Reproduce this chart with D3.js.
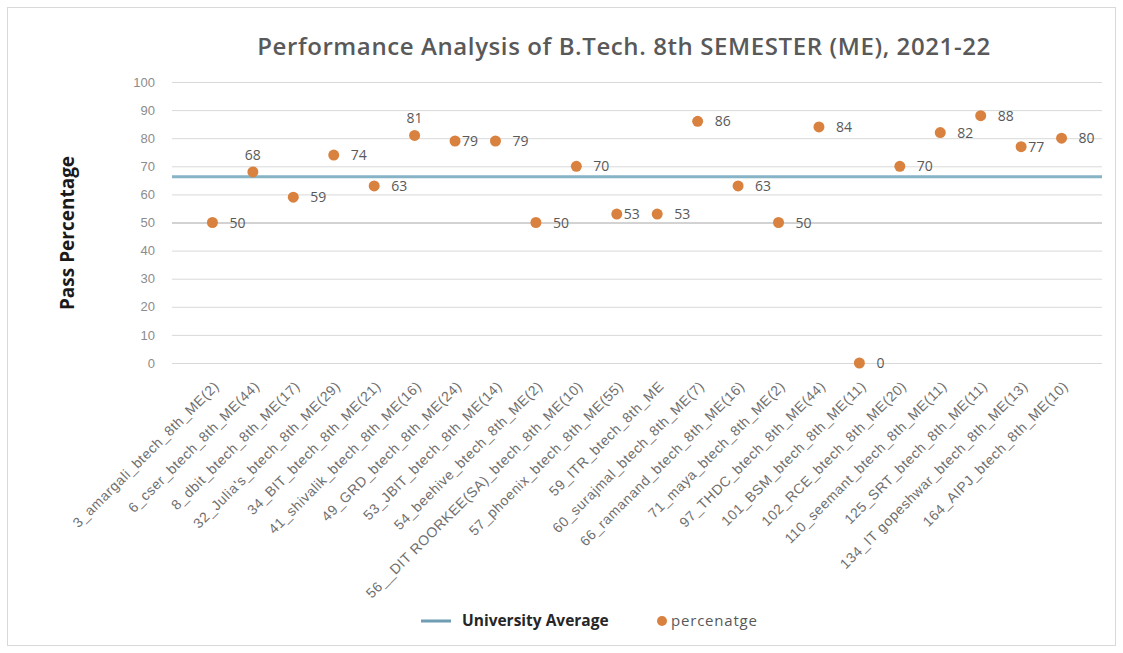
<!DOCTYPE html>
<html>
<head>
<meta charset="utf-8">
<script src="https://cdn.jsdelivr.net/npm/d3@7"></script>
<style>
  html, body { margin: 0; padding: 0; background: #fff; }
  svg { display: block; font-family: "Open Sans", "Liberation Sans", sans-serif; }
</style>
</head>
<body>
<svg id="chart" width="1123" height="653"></svg>
<script>
// Colleges (with number of students appearing) along the x axis
const colleges = [
  "3_amargali_btech_8th_ME(2)",
  "6_cser_btech_8th_ME(44)",
  "8_dbit_btech_8th_ME(17)",
  "32_Julia's_btech_8th_ME(29)",
  "34_BIT_btech_8th_ME(21)",
  "41_shivalik_btech_8th_ME(16)",
  "49_GRD_btech_8th_ME(24)",
  "53_JBIT_btech_8th_ME(14)",
  "54_beehive_btech_8th_ME(2)",
  "56__DIT ROORKEE(SA)_btech_8th_ME(10)",
  "57_phoenix_btech_8th_ME(55)",
  "59_ITR_btech_8th_ME",
  "60_surajmal_btech_8th_ME(7)",
  "66_ramanand_btech_8th_ME(16)",
  "71_maya_btech_8th_ME(2)",
  "97_THDC_btech_8th_ME(44)",
  "101_BSM_btech_8th_ME(11)",
  "102_RCE_btech_8th_ME(20)",
  "110_seemant_btech_8th_ME(11)",
  "125_SRT_btech_8th_ME(11)",
  "134_IT gopeshwar_btech_8th_ME(13)",
  "164_AIPJ_btech_8th_ME(10)"
];

// Pass percentage per college
const percentage = [50, 68, 59, 74, 63, 81, 79, 79, 50, 70, 53, 53, 86, 63, 50, 84, 0, 70, 82, 88, 77, 80];

// Where each value label sits relative to its dot
const labelSide = ["right", "above", "right", "right", "right", "above", "tight", "right", "right", "right",
                   "tight", "right", "right", "right", "right", "right", "right", "right", "right", "right",
                   "tight", "right"];

// University average pass percentage
const universityAverage = 66.3;

const yTicks = [0, 10, 20, 30, 40, 50, 60, 70, 80, 90, 100];

const svg = d3.select("#chart");
const W = 1123, H = 653;
const plot = { left: 172, right: 1102, top: 82, bottom: 363 };
const dotColor = "#d9823f";
const avgColor = "#86b3c6";

// outer chart frame
svg.append("rect")
  .attr("x", 7.5).attr("y", 7.5).attr("width", W - 15).attr("height", H - 15)
  .attr("fill", "#fff").attr("stroke", "#d9d9d9");

const x = d3.scalePoint().domain(colleges).range([plot.left, plot.right]).padding(1);
const y = d3.scaleLinear().domain([0, 100]).range([plot.bottom, plot.top]);

// horizontal gridlines
svg.append("g").selectAll("line").data(yTicks).join("line")
  .attr("x1", plot.left).attr("x2", plot.right)
  .attr("y1", d => y(d) + 0.5).attr("y2", d => y(d) + 0.5)
  .attr("stroke", d => d === 50 ? "#a6a6a6" : "#d9d9d9")
  .attr("stroke-width", 1);

// y axis tick labels
const yAxis = d3.axisLeft(y).tickValues(yTicks).tickSize(0).tickPadding(17);
const gy = svg.append("g").attr("transform", `translate(${plot.left},0)`).call(yAxis);
gy.select(".domain").remove();
gy.selectAll("text").attr("fill", "#8c8c8c").attr("font-size", 13).attr("font-family", "inherit");

// x axis category labels, rotated
const xAxis = d3.axisBottom(x).tickSize(0).tickPadding(0);
const gx = svg.append("g").attr("transform", `translate(0,${plot.bottom})`).call(xAxis);
gx.select(".domain").remove();
gx.selectAll("text")
  .attr("fill", "#6f6f6f")
  .attr("font-size", 14)
  .attr("font-family", "inherit")
  .attr("letter-spacing", 0.6)
  .attr("text-anchor", "end")
  .attr("dy", 0)
  .attr("transform", "translate(7,24) rotate(-45)");

// university average line
svg.append("line")
  .attr("x1", plot.left).attr("x2", plot.right)
  .attr("y1", y(universityAverage)).attr("y2", y(universityAverage))
  .attr("stroke", avgColor).attr("stroke-width", 3);

// data points
svg.append("g").selectAll("circle").data(percentage).join("circle")
  .attr("cx", (d, i) => x(colleges[i]))
  .attr("cy", d => y(d))
  .attr("r", 5.5)
  .attr("fill", dotColor);

// value labels
svg.append("g").selectAll("text").data(percentage).join("text")
  .attr("x", (d, i) => {
    const cx = x(colleges[i]);
    const s = labelSide[i];
    return s === "above" ? cx : s === "tight" ? cx + 7 : cx + 17;
  })
  .attr("y", (d, i) => labelSide[i] === "above" ? y(d) - 12 : y(d) + 5)
  .attr("text-anchor", (d, i) => labelSide[i] === "above" ? "middle" : "start")
  .attr("font-size", 14)
  .attr("fill", "#595959")
  .text(d => d);

// title
svg.append("text")
  .attr("x", 624).attr("y", 55)
  .attr("text-anchor", "middle")
  .attr("font-size", 24)
  .attr("font-weight", 600)
  .attr("letter-spacing", 0.6)
  .attr("fill", "#595959")
  .text("Performance Analysis of B.Tech. 8th SEMESTER (ME), 2021-22");

// y axis title
svg.append("text")
  .attr("transform", "translate(74,233) rotate(-90)")
  .attr("text-anchor", "middle")
  .attr("font-size", 19)
  .attr("font-weight", "bold")
  .attr("fill", "#1a1a1a")
  .text("Pass Percentage");

// legend
const lg = svg.append("g");
lg.append("line").attr("x1", 421).attr("x2", 451).attr("y1", 621).attr("y2", 621)
  .attr("stroke", "#6f9db3").attr("stroke-width", 3);
lg.append("text").attr("x", 462).attr("y", 626).attr("font-size", 15.5).attr("font-weight", "bold")
  .attr("fill", "#262626").text("University Average");
lg.append("circle").attr("cx", 662).attr("cy", 621).attr("r", 5).attr("fill", dotColor);
lg.append("text").attr("x", 671).attr("y", 626).attr("font-size", 15).attr("letter-spacing", 0.8)
  .attr("fill", "#595959").text("percenatge");
</script>
</body>
</html>
